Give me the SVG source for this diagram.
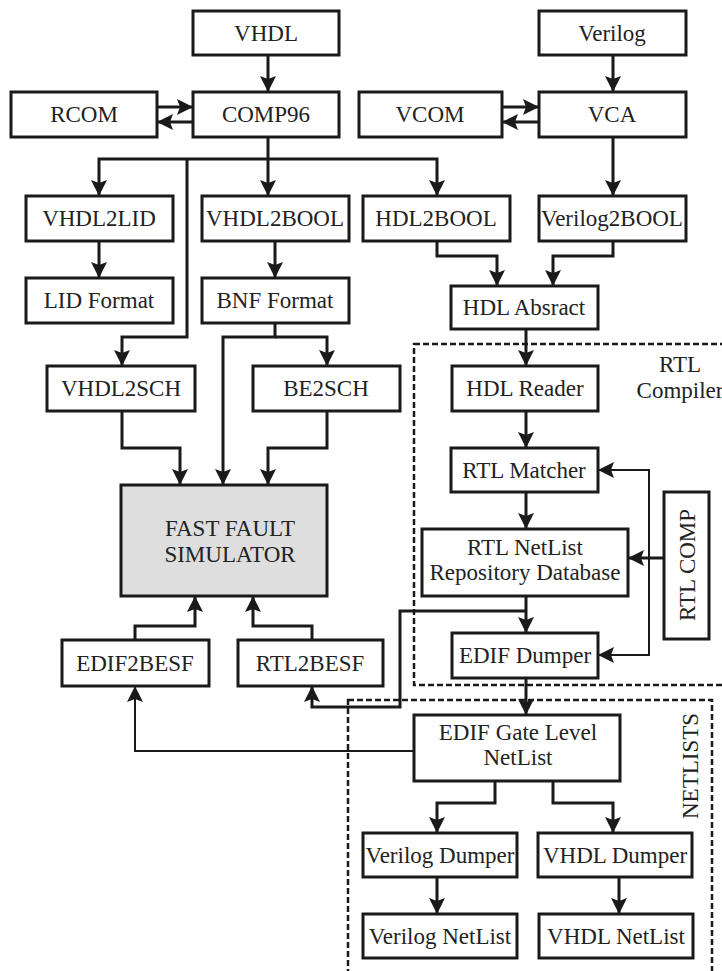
<svg xmlns="http://www.w3.org/2000/svg" width="722" height="971" viewBox="0 0 722 971">
<style>
.b{fill:#fff;stroke:#1a1a1a;stroke-width:3}
.g{fill:#dedede;stroke:#1a1a1a;stroke-width:3}
.t{font-family:"Liberation Serif","Times New Roman",serif;font-size:23px;fill:#222;text-anchor:middle}
.c{fill:none;stroke:#1a1a1a;stroke-width:3;marker-end:url(#ah)}
.n{fill:none;stroke:#1a1a1a;stroke-width:3}
.thin{fill:none;stroke:#1a1a1a;stroke-width:2;marker-end:url(#ah)}
.d{fill:none;stroke:#1a1a1a;stroke-width:2.5;stroke-dasharray:6 3}
</style>
<defs>
<marker id="ah" markerUnits="userSpaceOnUse" markerWidth="17" markerHeight="16" refX="16" refY="8" orient="auto">
<path d="M0,0 L16,8 L0,16 L3,8 z" fill="#1a1a1a"/>
</marker>
</defs>
<rect width="722" height="971" fill="#fff"/>

<g id="regions">
<rect class="d" x="414" y="344" width="330" height="341"/>
<text class="t" x="680" y="372">RTL</text>
<text class="t" x="680" y="398">Compiler</text>
<rect class="d" x="348" y="700" width="364" height="300"/>
<text class="t" transform="rotate(-90 698 766)" x="698" y="766">NETLISTS</text>
</g>

<g id="connectors">
<path class="c" d="M268,55 V92"/>
<path class="c" d="M157,107 H193"/>
<path class="c" d="M193,122 H157"/>
<path class="c" d="M613,55 V92"/>
<path class="c" d="M502,107 H539"/>
<path class="c" d="M539,122 H502"/>
<path class="c" d="M268,137 V196"/>
<path class="c" d="M268,159 H99 V196"/>
<path class="c" d="M268,159 H437 V196"/>
<path class="c" d="M187,159 V337 H122 V366"/>
<path class="c" d="M613,137 V196"/>
<path class="c" d="M99,241 V278"/>
<path class="c" d="M275,241 V278"/>
<path class="c" d="M275,323 V337 H223 V485"/>
<path class="c" d="M275,337 H327 V366"/>
<path class="c" d="M122,411 V448 H180 V485"/>
<path class="c" d="M327,411 V448 H268 V485"/>
<path class="c" d="M437,241 V256 H497 V286"/>
<path class="c" d="M613,241 V256 H553 V286"/>
<path class="c" d="M526,329 V366"/>
<path class="c" d="M526,411 V448"/>
<path class="c" d="M526,492 V529"/>
<path class="c" d="M526,596 V633"/>
<path class="c" d="M526,611 H400 V707 H312 V686"/>
<path class="c" d="M664,558 H628"/>
<path class="thin" d="M649,558 V470 H598"/>
<path class="thin" d="M649,558 V655 H598"/>
<path class="c" d="M526,678 V715"/>
<path class="thin" d="M414,751 H135 V686"/>
<path class="c" d="M135,640 V626 H195 V596"/>
<path class="c" d="M312,640 V626 H253 V596"/>
<path class="c" d="M495,781 V803 H437 V833"/>
<path class="c" d="M553,781 V803 H613 V833"/>
<path class="c" d="M437,877 V914"/>
<path class="c" d="M619,877 V914"/>
</g>

<g id="VHDL"><rect class="b" x="193" y="11" width="146" height="44"/><text class="t" x="266" y="41">VHDL</text></g>
<g id="Verilog"><rect class="b" x="539" y="11" width="147" height="44"/><text class="t" x="612" y="41">Verilog</text></g>
<g id="RCOM"><rect class="b" x="11" y="92" width="146" height="45"/><text class="t" x="84" y="122">RCOM</text></g>
<g id="COMP96"><rect class="b" x="193" y="92" width="146" height="45"/><text class="t" x="266" y="122">COMP96</text></g>
<g id="VCOM"><rect class="b" x="359" y="92" width="143" height="45"/><text class="t" x="430" y="122">VCOM</text></g>
<g id="VCA"><rect class="b" x="539" y="92" width="147" height="45"/><text class="t" x="612" y="122">VCA</text></g>
<g id="VHDL2LID"><rect class="b" x="26" y="196" width="147" height="45"/><text class="t" x="99" y="226">VHDL2LID</text></g>
<g id="VHDL2BOOL"><rect class="b" x="202" y="196" width="147" height="45"/><text class="t" x="275" y="226">VHDL2BOOL</text></g>
<g id="HDL2BOOL"><rect class="b" x="363" y="196" width="147" height="45"/><text class="t" x="436" y="226">HDL2BOOL</text></g>
<g id="Verilog2BOOL"><rect class="b" x="539" y="196" width="147" height="45"/><text class="t" x="612" y="226">Verilog2BOOL</text></g>
<g id="LIDFormat"><rect class="b" x="26" y="278" width="147" height="45"/><text class="t" x="99" y="308">LID Format</text></g>
<g id="BNFFormat"><rect class="b" x="202" y="278" width="147" height="45"/><text class="t" x="275" y="308">BNF Format</text></g>
<g id="HDLAbsract"><rect class="b" x="451" y="286" width="147" height="43"/><text class="t" x="524" y="315">HDL Absract</text></g>
<g id="VHDL2SCH"><rect class="b" x="47" y="366" width="148" height="45"/><text class="t" x="121" y="396">VHDL2SCH</text></g>
<g id="BE2SCH"><rect class="b" x="253" y="366" width="147" height="45"/><text class="t" x="326" y="396">BE2SCH</text></g>
<g id="HDLReader"><rect class="b" x="452" y="366" width="146" height="45"/><text class="t" x="525" y="396">HDL Reader</text></g>
<g id="RTLMatcher"><rect class="b" x="451" y="448" width="147" height="44"/><text class="t" x="524" y="478">RTL Matcher</text></g>
<g id="FastFaultSimulator"><rect class="g" x="121" y="485" width="206" height="111"/><text class="t" x="230" y="536">FAST FAULT</text><text class="t" x="230" y="562">SIMULATOR</text></g>
<g id="RTLNetList"><rect class="b" x="422" y="529" width="206" height="67"/><text class="t" x="525" y="555">RTL NetList</text><text class="t" x="525" y="580">Repository Database</text></g>
<g id="RTLCOMP"><rect class="b" x="664" y="492" width="45" height="147"/><text class="t" transform="rotate(-90 695 565)" x="695" y="565">RTL COMP</text></g>
<g id="EDIFDumper"><rect class="b" x="452" y="633" width="146" height="45"/><text class="t" x="525" y="663">EDIF Dumper</text></g>
<g id="EDIF2BESF"><rect class="b" x="62" y="640" width="147" height="46"/><text class="t" x="135" y="671">EDIF2BESF</text></g>
<g id="RTL2BESF"><rect class="b" x="238" y="640" width="145" height="46"/><text class="t" x="310" y="671">RTL2BESF</text></g>
<g id="EDIFGateLevelNetList"><rect class="b" x="414" y="715" width="206" height="66"/><text class="t" x="518" y="740">EDIF Gate Level</text><text class="t" x="518" y="765">NetList</text></g>
<g id="VerilogDumper"><rect class="b" x="363" y="833" width="154" height="44"/><text class="t" x="440" y="863">Verilog Dumper</text></g>
<g id="VHDLDumper"><rect class="b" x="538" y="833" width="154" height="44"/><text class="t" x="615" y="863">VHDL Dumper</text></g>
<g id="VerilogNetList"><rect class="b" x="363" y="914" width="154" height="44"/><text class="t" x="440" y="944">Verilog NetList</text></g>
<g id="VHDLNetList"><rect class="b" x="539" y="914" width="154" height="44"/><text class="t" x="616" y="944">VHDL NetList</text></g>
</svg>
